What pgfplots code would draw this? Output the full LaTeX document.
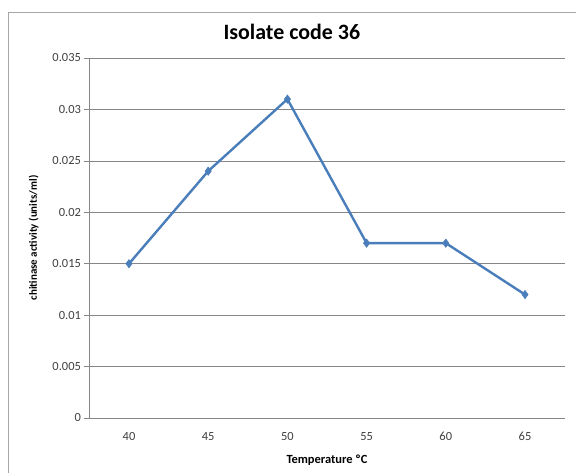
\documentclass[border=0pt]{standalone}
\usepackage{pgfplots}
\pgfplotsset{compat=1.18}
\usepackage{fontspec}
\setmainfont{Carlito}
\definecolor{xlblue}{RGB}{74,126,187}
\definecolor{gridgray}{RGB}{134,134,134}
\begin{document}
\begin{tikzpicture}[x=1bp,y=1bp]
  \useasboundingbox (0,0) rectangle (576,473);
  \fill[white] (0,0) rectangle (576,473);
  \begin{scope}
    \clip (0,0) rectangle (576,473);
    \draw[gray!70, line width=0.8bp] (8,-10) rectangle (590,461);
  \end{scope}
  \begin{axis}[
      at={(89.4bp,55bp)}, anchor=south west,
      scale only axis,
      width=475.2bp, height=360bp,
      xmin=-0.5, xmax=5.5,
      ymin=0, ymax=0.035,
      xtick=data,
      xticklabels={40,45,50,55,60,65},
      ytick={0,0.005,0.01,0.015,0.02,0.025,0.03,0.035},
      yticklabels={0,0.005,0.01,0.015,0.02,0.025,0.03,0.035},
      scaled y ticks=false,
      axis x line*=bottom, axis y line*=left,
      axis line style={gridgray, line width=0.6bp},
      ymajorgrids=true,
      grid style={gridgray, line width=0.6bp},
      x tick style={draw=none},
      y tick style={gridgray, line width=0.6bp},
      tick align=outside,
      major tick length=5bp,
      tick label style={font=\fontsize{12.5}{14}\selectfont, text=black!75},
      xticklabel style={yshift=-6bp},
      title={\textbf{Isolate code 36}},
      title style={font=\fontsize{22}{25}\selectfont, at={(0.426,1)}, anchor=center, yshift=20bp},
      xlabel={\textbf{Temperature ºC}},
      xlabel style={font=\fontsize{12.5}{14}\selectfont, yshift=-7bp},
      ylabel={\textbf{chitinase activity (units/ml)}},
      ylabel style={font=\fontsize{11}{13}\selectfont, yshift=7bp},
    ]
    \addplot[xlblue, line width=2.4bp, mark=diamond*, mark size=4.2bp,
             mark options={fill=xlblue, draw=xlblue, line width=0.5bp}]
      coordinates {(0,0.015) (1,0.024) (2,0.031) (3,0.017) (4,0.017) (5,0.012)};
  \end{axis}
\end{tikzpicture}
\end{document}
